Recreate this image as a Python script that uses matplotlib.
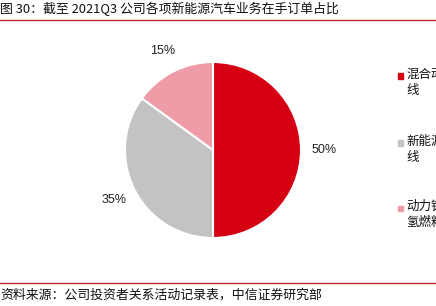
import matplotlib
matplotlib.use('Agg')
import matplotlib.pyplot as plt
from matplotlib.patches import Rectangle
from matplotlib.lines import Line2D

plt.rcParams['font.family'] = ['Noto Sans CJK SC', 'DejaVu Sans']

# 数据
labels = ['混合动力汽车生产\n线', '新能源汽车生产\n线', '动力锂电池及\n氢燃料电池生产线']
values = [50, 35, 15]
colors = ['#D50012', '#C3C3C3', '#EE9CA7']
title = '图 30：截至 2021Q3 公司各项新能源汽车业务在手订单占比'
source = '资料来源：公司投资者关系活动记录表，中信证券研究部'

W, H = 436, 306
fig = plt.figure(figsize=(W / 100, H / 100), dpi=100)

# 饼图
cx, cy, r = 213, 150, 88
ax = fig.add_axes([(cx - r) / W, 1 - (cy + r) / H, 2 * r / W, 2 * r / H])
ax.pie(values, colors=colors, startangle=90, counterclock=False,
       autopct='%d%%', pctdistance=1.26,
       wedgeprops=dict(edgecolor='white', linewidth=1.5),
       textprops=dict(fontsize=9, color='#222222', family='Liberation Sans'))
ax.set_xlim(-1, 1)
ax.set_ylim(-1, 1)
ax.set_aspect('equal')
ax.axis('off')

# 标题与来源
fig.text(0 / W, 1 - 9 / H, title, fontsize=9.3, va='center', ha='left', color='#111111')
fig.add_artist(Line2D([0, 1], [1 - 20 / H, 1 - 20 / H], color='#C0282E', linewidth=1))
fig.add_artist(Line2D([0, 1], [1 - 283 / H, 1 - 283 / H], color='#C0282E', linewidth=1))
fig.text(0 / W, 1 - 295 / H, source, fontsize=9.3, va='center', ha='left', color='#111111')

# 图例
ys = [76, 143, 208]
for lab, col, y in zip(labels, colors, ys):
    fig.add_artist(Rectangle((398 / W, 1 - (y + 2.5) / H), 5 / W, 5 / H,
                             color=col, transform=fig.transFigure))
    fig.text(406 / W, 1 - (y - 8) / H, lab, fontsize=9, va='top', ha='left',
             color='#111111', linespacing=1.3)

fig.savefig('out.png', dpi=100)
